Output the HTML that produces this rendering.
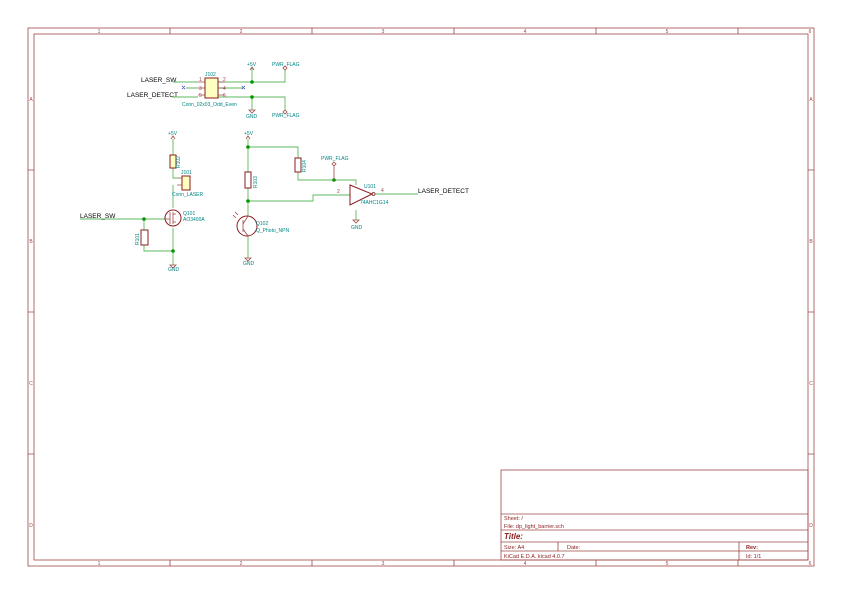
<!DOCTYPE html>
<html><head><meta charset="utf-8"><style>
html,body{margin:0;padding:0;background:#fff;}
svg{display:block;font-family:"Liberation Sans",sans-serif;}
.f{stroke:#a04848;fill:none;stroke-width:0.8}
.w{stroke:#5cb85c;fill:none;stroke-width:0.9}
.p{stroke:#a04848;fill:none;stroke-width:0.8}
.b{stroke:#8a1c1c;fill:#ffffc2;stroke-width:1}
.t{fill:#008484;font-size:5px}
.n{fill:#000;font-size:6.5px}
.fl{fill:#a04848;font-size:5px}
.pn{fill:#a04848;font-size:5px}
.j{fill:#009600}
.tb{fill:#8a1c1c;font-size:5.5px}
</style></head><body>
<svg width="842" height="595" viewBox="0 0 842 595">
<!-- frame -->
<rect class="f" x="28" y="28" width="786" height="538"/>
<rect class="f" x="34" y="34" width="774" height="526"/>
<g class="f">
<path d="M170 28V34M312 28V34M454 28V34M596 28V34M738 28V34"/>
<path d="M170 560V566M312 560V566M454 560V566M596 560V566M738 560V566"/>
<path d="M28 170H34M28 312H34M28 454H34M808 170H814M808 312H814M808 454H814"/>
</g>
<g class="fl" text-anchor="middle">
<text x="99" y="33">1</text><text x="241" y="33">2</text><text x="383" y="33">3</text><text x="525" y="33">4</text><text x="667" y="33">5</text><text x="810" y="33">6</text>
<text x="99" y="565">1</text><text x="241" y="565">2</text><text x="383" y="565">3</text><text x="525" y="565">4</text><text x="667" y="565">5</text><text x="810" y="565">6</text>
<text x="31" y="101">A</text><text x="31" y="243">B</text><text x="31" y="385">C</text><text x="31" y="527">D</text>
<text x="811" y="101">A</text><text x="811" y="243">B</text><text x="811" y="385">C</text><text x="811" y="527">D</text>
</g>
<!-- title block -->
<g class="f">
<rect x="501" y="470" width="307" height="90"/>
<path d="M501 514H808M501 530H808M501 542H808M501 551H808M558 542V551M739 542V560"/>
</g>
<text class="tb" x="504" y="520">Sheet: /</text>
<text class="tb" x="504" y="528">File: dp_light_barrier.sch</text>
<text class="tb" x="504" y="539" style="font-size:8px;font-weight:bold;font-style:italic">Title:</text>
<text class="tb" x="504" y="549">Size: A4</text>
<text class="tb" x="567" y="549">Date:</text>
<text class="tb" x="746" y="549" font-weight="bold">Rev:</text>
<text class="tb" x="504" y="558">KiCad E.D.A.  kicad 4.0.7</text>
<text class="tb" x="746" y="558">Id: 1/1</text>

<!-- J102 -->
<text class="n" x="141" y="82">LASER_SW</text>
<text class="n" x="127" y="97">LASER_DETECT</text>
<path class="w" d="M173 82H198M172 97H198M186 88H198M218 88H243M218 82H285V70M218 97H285V110M252 82V68M252 97V110"/>
<path class="p" d="M198 82H205M198 88H205M198 95H205M218 82H225M218 88H225M218 95H225"/>
<rect class="b" x="205" y="78" width="13" height="20"/>
<g stroke="#3333aa" stroke-width="0.7"><path d="M182 86l3 3M185 86l-3 3M242 86l3 3M245 86l-3 3"/></g>
<circle class="j" cx="252" cy="82" r="1.8"/><circle class="j" cx="252" cy="97" r="1.8"/>
<text class="t" x="205" y="76">J102</text>
<text class="t" x="182" y="106">Conn_02x03_Odd_Even</text>
<g class="pn"><text x="199" y="81">1</text><text x="199" y="90">3</text><text x="199" y="97">5</text><text x="223" y="81">2</text><text x="223" y="90">4</text><text x="223" y="97">6</text></g>
<text class="t" x="247" y="66">+5V</text>
<path class="p" d="M250 70l2 -3l2 3"/>
<text class="t" x="246" y="118">GND</text>
<path class="p" d="M249 110h6l-3 3z"/>
<text class="t" x="272" y="66">PWR_FLAG</text>
<path class="p" d="M285 70l-2 -2l2 -2l2 2z"/>
<text class="t" x="272" y="117">PWR_FLAG</text>
<path class="p" d="M285 110l-2 2l2 2l2 -2z"/>

<!-- laser driver -->
<text class="t" x="168" y="135">+5V</text>
<path class="p" d="M171 139l2 -3l2 3"/>
<path class="w" d="M173 139V155M173 168V178H177M173 185V208M80 219H165M144 219V230M144 245V251H173M173 228V265"/>
<rect class="b" x="170" y="155" width="6" height="13" fill="none"/>
<text class="t" transform="translate(180,168) rotate(-90)">R102</text>
<rect class="b" x="182" y="176" width="8" height="14"/>
<path class="p" d="M177 178H182M177 185H182"/>
<text class="t" x="181" y="174">J101</text>
<text class="t" x="172" y="196">Conn_LASER</text>
<text class="n" x="80" y="218">LASER_SW</text>
<circle class="j" cx="144" cy="219" r="1.8"/><circle class="j" cx="173" cy="251" r="1.8"/>
<circle cx="173" cy="218" r="8" fill="none" stroke="#8a1c1c" stroke-width="1"/>
<path class="p" d="M170 212V224M173 212V224M173 214H176M173 222H176M165 219H170"/>
<text class="t" x="183" y="215">Q101</text>
<text class="t" x="183" y="221">AO3400A</text>
<rect x="141" y="230" width="7" height="15" fill="none" stroke="#8a1c1c" stroke-width="1"/>
<text class="t" transform="translate(139,245) rotate(-90)">R101</text>
<text class="t" x="168" y="271">GND</text>
<path class="p" d="M170 265h6l-3 3z"/>

<!-- photo -->
<text class="t" x="244" y="135">+5V</text>
<path class="p" d="M246 139l2 -3l2 3"/>
<path class="w" d="M248 139V172M248 188V216M248 147H298V158M298 172V180H356V185M248 201H313V195H350M375 194H418M356 210V220M248 236V258"/>
<circle class="j" cx="248" cy="147" r="1.8"/><circle class="j" cx="248" cy="201" r="1.8"/><circle class="j" cx="334" cy="180" r="1.8"/>
<rect x="245" y="172" width="6" height="16" fill="none" stroke="#8a1c1c" stroke-width="1"/>
<text class="t" transform="translate(257,188) rotate(-90)">R103</text>
<rect x="295" y="158" width="6" height="14" fill="none" stroke="#8a1c1c" stroke-width="1"/>
<text class="t" transform="translate(306,172) rotate(-90)">R104</text>
<text class="t" x="321" y="160">PWR_FLAG</text>
<path class="p" d="M334 166l-2 -2l2 -2l2 2zM334 166V180"/>
<path d="M350 185L372 194L350 205Z" fill="none" stroke="#8a1c1c" stroke-width="1"/>
<circle cx="373.5" cy="194" r="1.5" fill="none" stroke="#8a1c1c" stroke-width="0.8"/>
<text class="t" x="364" y="188">U101</text>
<text class="t" x="360" y="204">74AHC1G14</text>
<text class="pn" x="337" y="193">2</text><text class="pn" x="381" y="192">4</text>
<text class="n" x="418" y="193">LASER_DETECT</text>
<text class="t" x="351" y="229">GND</text>
<path class="p" d="M353 220h6l-3 3z"/>
<circle cx="247" cy="226" r="10" fill="none" stroke="#8a1c1c" stroke-width="1"/>
<path class="p" d="M243 220V232M243 224L248 216M243 229L248 236M236 218l-3 -3M238 215l-3 -3"/>
<text class="t" x="256" y="225">Q102</text>
<text class="t" x="256" y="232">Q_Photo_NPN</text>
<text class="t" x="243" y="265">GND</text>
<path class="p" d="M245 258h6l-3 3z"/>
</svg>
</body></html>
